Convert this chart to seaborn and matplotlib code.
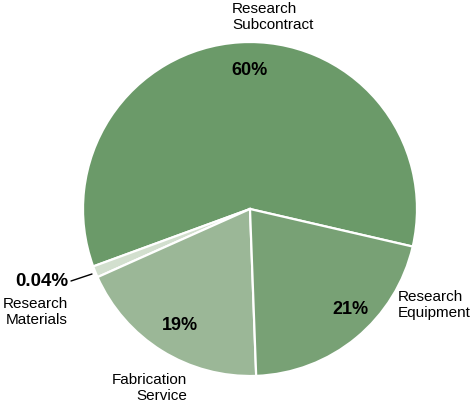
import matplotlib
matplotlib.use("Agg")
import matplotlib.pyplot as plt
import seaborn as sns

# Data
categories = ["Research Subcontract", "Research Materials", "Fabrication Service", "Research Equipment"]
shares = [59.2, 1.1, 18.9, 20.8]  # slice sizes as drawn
pct_labels = ["60%", "0.04%", "19%", "21%"]
name_labels = ["Research\nSubcontract", "Research\nMaterials", "Fabrication\nService", "Research\nEquipment"]
colors = ["#6b9a69", "#d2dfce", "#9bb797", "#78a175"]

sns.set_style("white")
plt.rcParams["font.family"] = ["Liberation Sans", "DejaVu Sans"]
plt.rcParams["text.color"] = "black"

fig = plt.figure(figsize=(4.75, 4.06), dpi=100)
ax = fig.add_axes([0, 0, 1, 1])

ax.pie(shares, colors=colors, startangle=-13, counterclock=True,
       radius=1, center=(0, 0),
       wedgeprops=dict(edgecolor="white", linewidth=1.6))

# pixel -> data helper (center 250,210, radius 167 px)
def P(px, py):
    return (px - 250) / 167, (210 - py) / 167

ax.set_xlim(-250 / 167, 225 / 167)
ax.set_ylim(-196 / 167, 210 / 167)
ax.set_aspect("auto")
ax.axis("off")

# Percent labels
ax.text(*P(250, 71), pct_labels[0], ha="center", va="center", fontsize=13, fontweight="bold")
ax.text(*P(350, 310), pct_labels[3], ha="center", va="center", fontsize=13, fontweight="bold")
ax.text(*P(180, 326), pct_labels[2], ha="center", va="center", fontsize=13, fontweight="bold")
ax.text(*P(68, 282), pct_labels[1], ha="right", va="center", fontsize=13.5, fontweight="bold")

# Category labels
ax.text(*P(232, 17), name_labels[0], ha="left", va="center", fontsize=11, linespacing=1.1)
ax.text(*P(398, 305), name_labels[3], ha="left", va="center", fontsize=11, linespacing=1.1)
ax.text(*P(187, 388), name_labels[2], ha="right", va="center", fontsize=11, linespacing=1.1, multialignment="right")
ax.text(*P(68, 312), name_labels[1], ha="right", va="center", fontsize=11, linespacing=1.1, multialignment="right")

# Leader line for the tiny slice
x0, y0 = P(71, 282)
x1, y1 = P(92, 275)
ax.plot([x0, x1], [y0, y1], color="black", linewidth=1)

fig.savefig("out.png", dpi=100)
